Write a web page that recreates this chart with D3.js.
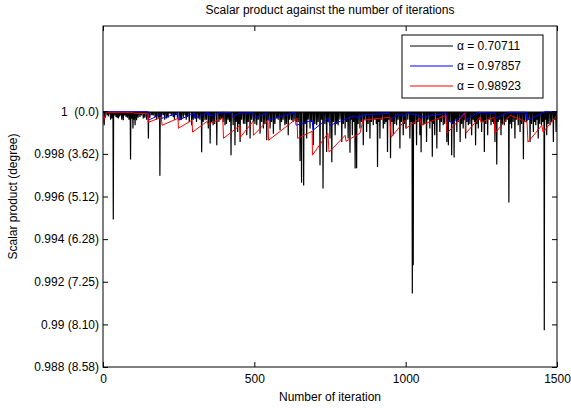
<!DOCTYPE html>
<html>
<head>
<meta charset="utf-8">
<script src="https://cdn.jsdelivr.net/npm/d3@7"></script>
<style>
  body { margin: 0; background: white; }
  text { font-family: "Liberation Sans", Arial, sans-serif; }
</style>
</head>
<body>
<div id="container"></div>
<script>
// values
let xTicks = [0, 500, 1000, 1500];
let yTicks = [0.988, 0.99, 0.992, 0.994, 0.996, 0.998, 1];
let yTickLabels = ["0.988 (8.58)", "0.99 (8.10)", "0.992 (7.25)", "0.994 (6.28)", "0.996 (5.12)", "0.998 (3.62)", "1  (0.0)"];
let seriesNames = ["\u03b1 = 0.70711", "\u03b1 = 0.97857", "\u03b1 = 0.98923"];

// black series: level between dips, and [iteration, value] at each dip
let blackLevel = 0.99996;
let blackSpikes = [
  [4,0.99934],[14,0.99981],[21,0.99989],[29,0.99966],[34,0.99492],[43,0.99973],[51,0.99966],[58,0.99981],
  [67,0.99958],[76,0.99973],[91,0.99774],[99,0.99919],[106,0.99934],[111,0.99958],[122,0.99973],[133,0.99966],
  [150,0.99872],[161,0.99981],[172,0.99973],[188,0.99697],[199,0.99981],[210,0.99966],[221,0.99989],[232,0.99973],
  [241,0.99981],[254,0.99958],[271,0.99981],[279,0.99973],[293,0.99934],[304,0.99966],[315,0.99966],[326,0.99808],
  [337,0.99958],[348,0.99919],[354,0.99849],[364,0.99934],[376,0.99841],[383,0.9995],[392,0.99966],[403,0.99934],
  [423,0.99794],[430,0.99934],[436,0.99841],[445,0.99903],[453,0.99856],[464,0.99942],[475,0.99887],[486,0.99872],
  [497,0.9995],[508,0.99934],[519,0.99895],[530,0.99919],[541,0.99864],[552,0.99919],[563,0.99895],[574,0.99966],
  [585,0.99911],[601,0.99934],[612,0.99887],[623,0.99958],[640,0.9995],[651,0.99766],[656,0.99664],[663,0.99652],
  [673,0.99872],[684,0.99919],[695,0.99841],[706,0.99934],[717,0.99747],[727,0.99638],[739,0.99809],[750,0.99872],
  [756,0.99761],[767,0.99887],[777,0.99934],[789,0.99856],[800,0.99919],[810,0.99872],[816,0.99805],[824,0.99887],
  [833,0.99731],[838,0.99733],[849,0.99919],[860,0.99841],[871,0.99903],[882,0.99872],[893,0.99934],[907,0.99739],
  [915,0.99872],[926,0.99919],[940,0.99809],[950,0.9978],[959,0.99887],[970,0.99934],[981,0.99825],[992,0.99887],
  [1001,0.99919],[1014,0.99872],[1022,0.99145],[1025,0.99278],[1036,0.99841],[1047,0.99887],[1051,0.99808],[1058,0.99934],
  [1069,0.99856],[1080,0.99919],[1088,0.99787],[1096,0.99887],[1103,0.99825],[1113,0.99903],[1124,0.99934],[1136,0.99856],
  [1141,0.99841],[1152,0.99794],[1160,0.99783],[1169,0.99903],[1180,0.99856],[1190,0.99919],[1198,0.99872],[1207,0.99934],
  [1218,0.99887],[1231,0.99841],[1240,0.99919],[1251,0.99903],[1260,0.99809],[1271,0.99887],[1282,0.99934],[1295,0.99856],
  [1301,0.9975],[1315,0.99887],[1326,0.99934],[1341,0.99572],[1350,0.99919],[1361,0.99872],[1372,0.99934],[1378,0.99903],
  [1389,0.99775],[1400,0.9995],[1411,0.99856],[1422,0.99903],[1430,0.99934],[1438,0.99872],[1449,0.99934],[1458,0.98973],
  [1466,0.99887],[1477,0.99934],[1488,0.99856],[1497,0.99903]
];
// the many shallow dips that make the dark band under 1
let blackSmallDips = [
  [8,0.9997],[18,0.99975],[25,0.9996],[38,0.9998],[47,0.9997],[55,0.99975],[62,0.9996],[71,0.9998],
  [81,0.9997],[86,0.9996],[95,0.99965],[102,0.9996],[116,0.9997],[127,0.9998],[138,0.9997],[144,0.9996],
  [155,0.9997],[166,0.9998],[177,0.9996],[183,0.9997],[193,0.9997],[204,0.9996],[215,0.9997],[226,0.9998],
  [236,0.9996],[246,0.9997],[259,0.9996],[265,0.9997],[275,0.9996],[285,0.9995],[298,0.9996],[309,0.9995],
  [320,0.9996],[331,0.9995],[342,0.9996],[359,0.9995],[369,0.9994],[387,0.9996],[397,0.9995],[408,0.9994],
  [413,0.9996],[418,0.9995],[440,0.9995],[449,0.9994],[458,0.9996],[469,0.9994],[480,0.9995],[491,0.9996],
  [502,0.9994],[513,0.9996],[524,0.9995],[535,0.9994],[546,0.9996],[557,0.9995],[568,0.9994],[579,0.9996],
  [590,0.9995],[595,0.9996],[606,0.9994],[617,0.9996],[628,0.9995],[634,0.9996],[645,0.9995],[668,0.9994],
  [678,0.9996],[689,0.9995],[700,0.9994],[711,0.9995],[722,0.9996],[733,0.9994],[744,0.9995],[761,0.9995],
  [772,0.9994],[783,0.9996],[794,0.9994],[805,0.9995],[820,0.9996],[828,0.9995],[843,0.9994],[854,0.9995],
  [865,0.9996],[876,0.9994],[887,0.9995],[898,0.9996],[903,0.9994],[911,0.9995],[920,0.9996],[931,0.9994],
  [935,0.9995],[945,0.9996],[954,0.9995],[964,0.9994],[975,0.9996],[986,0.9995],[996,0.9994],[1007,0.9996],
  [1018,0.9995],[1030,0.9994],[1041,0.9995],[1063,0.9994],[1074,0.9996],[1084,0.9995],[1092,0.9994],[1108,0.9996],
  [1118,0.9995],[1129,0.9994],[1146,0.9995],[1156,0.9994],[1164,0.9996],[1174,0.9995],[1185,0.9994],[1194,0.9996],
  [1202,0.9995],[1212,0.9994],[1223,0.9996],[1227,0.9995],[1235,0.9994],[1245,0.9996],[1256,0.9995],[1265,0.9994],
  [1276,0.9996],[1287,0.9995],[1291,0.9994],[1306,0.9995],[1310,0.9996],[1320,0.9994],[1331,0.9995],[1336,0.9996],
  [1345,0.9994],[1355,0.9995],[1366,0.9996],[1383,0.9994],[1394,0.9995],[1405,0.9996],[1416,0.9994],[1426,0.9995],
  [1434,0.9996],[1443,0.9994],[1453,0.9995],[1462,0.9996],[1471,0.9994],[1482,0.9995],[1492,0.9996]
];

// blue and red series: [iteration, value] at the corners of the saw teeth
let blueSeries = [
  [0,0.99998],[149,0.99998],[150,0.99958],[192,0.99986],[195,0.99967],[248,0.99991],[249,0.99958],[301,0.99991],
  [304,0.99967],[347,0.99995],[350,0.99977],[396,0.99995],[423,0.99993],[426,0.99972],[453,0.99991],[496,0.99993],
  [497,0.99967],[542,0.99991],[545,0.99958],[634,0.99995],[638,0.99934],[691,0.99958],[694,0.99911],[743,0.99967],
  [750,0.99934],[826,0.99977],[849,0.99967],[852,0.99981],[945,0.99991],[948,0.99958],[975,0.99986],[998,0.99977],
  [1001,0.99991],[1047,0.99981],[1051,0.99972],[1133,0.99991],[1137,0.99958],[1156,0.99944],[1196,0.99995],[1199,0.99958],
  [1239,0.99995],[1295,0.99991],[1298,0.99967],[1338,0.99995],[1398,0.99995],[1401,0.99958],[1417,0.99967],[1460,0.99998],
  [1500,0.99998]
];
let redSeries = [
  [0,0.99944],[10,0.99995],[99,0.99995],[102,0.99991],[149,0.99988],[150,0.99948],[193,0.99972],[195,0.99934],
  [248,0.99967],[249,0.9992],[294,0.99958],[296,0.99902],[344,0.99953],[347,0.99939],[396,0.99967],[398,0.99873],
  [453,0.99934],[454,0.99878],[496,0.99953],[497,0.99887],[545,0.99958],[547,0.99864],[641,0.99967],[643,0.99873],
  [691,0.99906],[692,0.99794],[743,0.99897],[747,0.99808],[800,0.99887],[803,0.99859],[849,0.99897],[859,0.99958],
  [948,0.99972],[952,0.99878],[998,0.99958],[1001,0.9992],[1047,0.99967],[1051,0.99934],[1133,0.99981],[1137,0.99897],
  [1196,0.99991],[1199,0.99897],[1245,0.99972],[1249,0.99948],[1292,0.99972],[1295,0.99897],[1345,0.99981],[1401,0.99948],
  [1404,0.99855],[1450,0.99934],[1454,0.99902],[1500,0.99981]
];
let seriesColors = ["black", "blue", "red"];

let w = 571;
let h = 408;
let padLeft = 103, padRight = 557, padTop = 26, padBottom = 367;

let viz = d3.select("#container")
  .append("svg")
    .attr("width", w)
    .attr("height", h)
    .style("background-color", "white")
;

let xScale = d3.scaleLinear().domain([0, 1500]).range([padLeft, padRight]);
let yScale = d3.scaleLinear().domain([0.988, 1.004]).range([padBottom, padTop]);

// lines, clipped to the box
viz.append("clipPath").attr("id", "plotclip")
  .append("rect").attr("x", padLeft).attr("y", padTop).attr("width", padRight - padLeft).attr("height", padBottom - padTop);

let plot = viz.append("g").attr("clip-path", "url(#plotclip)");

// each dip goes down from the level one step before and back one step after
let allDips = blackSpikes.concat(blackSmallDips).sort(function(a, b){ return a[0] - b[0]; });
let blackPoints = [[0, blackLevel]];
allDips.forEach(function(d){
  blackPoints.push([d[0] - 1, blackLevel]);
  blackPoints.push(d);
  blackPoints.push([d[0] + 1, blackLevel]);
});
blackPoints.push([1500, blackLevel]);

let lineMaker = d3.line()
  .x(function(d){ return xScale(d[0]); })
  .y(function(d){ return yScale(d[1]); });

let allSeries = [blackPoints, blueSeries, redSeries];
allSeries.forEach(function(s, i){
  plot.append("path")
    .attr("d", lineMaker(s))
    .attr("fill", "none")
    .attr("stroke", seriesColors[i])
    .attr("stroke-width", i == 0 ? 1.2 : 1);
});

// axes, MATLAB style ticks pointing inwards
let xAxis = d3.axisBottom(xScale).tickValues(xTicks).tickFormat(d3.format("d"))
  .tickSizeInner(-5).tickSizeOuter(0).tickPadding(7);
let xAxisGroup = viz.append("g").attr("class", "xaxis")
  .attr("transform", "translate(0," + padBottom + ")").call(xAxis);

let yAxis = d3.axisLeft(yScale).tickValues(yTicks)
  .tickFormat(function(d, i){ return yTickLabels[i]; })
  .tickSizeInner(-5).tickSizeOuter(0).tickPadding(4);
let yAxisGroup = viz.append("g").attr("class", "yaxis")
  .attr("transform", "translate(" + padLeft + ",0)").call(yAxis);

let topAxisGroup = viz.append("g")
  .attr("transform", "translate(0," + padTop + ")")
  .call(d3.axisTop(xScale).tickValues(xTicks).tickFormat("").tickSizeInner(-5).tickSizeOuter(0));
let rightAxisGroup = viz.append("g")
  .attr("transform", "translate(" + padRight + ",0)")
  .call(d3.axisRight(yScale).tickValues(yTicks).tickFormat("").tickSizeInner(-5).tickSizeOuter(0));

[xAxisGroup, yAxisGroup, topAxisGroup, rightAxisGroup].forEach(function(g){
  g.select(".domain").remove();
  g.selectAll("line").attr("stroke", "black");
  g.selectAll("text").attr("fill", "black").style("font-size", "12px")
    .style("font-family", "'Liberation Sans', Arial, sans-serif");
});
yAxisGroup.selectAll("text").style("white-space", "pre");

viz.append("rect")
  .attr("x", padLeft).attr("y", padTop)
  .attr("width", padRight - padLeft).attr("height", padBottom - padTop)
  .attr("fill", "none").attr("stroke", "black").attr("stroke-width", 1);

// titles
viz.append("text")
  .attr("x", (padLeft + padRight) / 2).attr("y", 14)
  .attr("text-anchor", "middle").style("font-size", "12px")
  .text("Scalar product against the number of iterations");

viz.append("text")
  .attr("x", (padLeft + padRight) / 2).attr("y", 401)
  .attr("text-anchor", "middle").style("font-size", "12px")
  .text("Number of iteration");

viz.append("text")
  .attr("transform", "translate(17," + ((padTop + padBottom) / 2) + ") rotate(-90)")
  .attr("text-anchor", "middle").style("font-size", "12px")
  .text("Scalar product (degree)");

// legend
let legend = viz.append("g").attr("transform", "translate(402,35)");
legend.append("rect")
  .attr("width", 141).attr("height", 63)
  .attr("fill", "white").attr("stroke", "black").attr("stroke-width", 1);

let legendRows = legend.selectAll(".row").data(seriesNames).enter()
  .append("g")
    .attr("class", "row")
    .attr("transform", function(d, i){ return "translate(0," + (11 + i * 20) + ")"; })
;
legendRows.append("line")
  .attr("x1", 8).attr("x2", 51)
  .attr("stroke", function(d, i){ return seriesColors[i]; })
  .attr("stroke-width", 1);
legendRows.append("text")
  .attr("x", 55).attr("dy", "0.35em")
  .style("font-size", "12px")
  .text(function(d){ return d; });
</script>
</body>
</html>
